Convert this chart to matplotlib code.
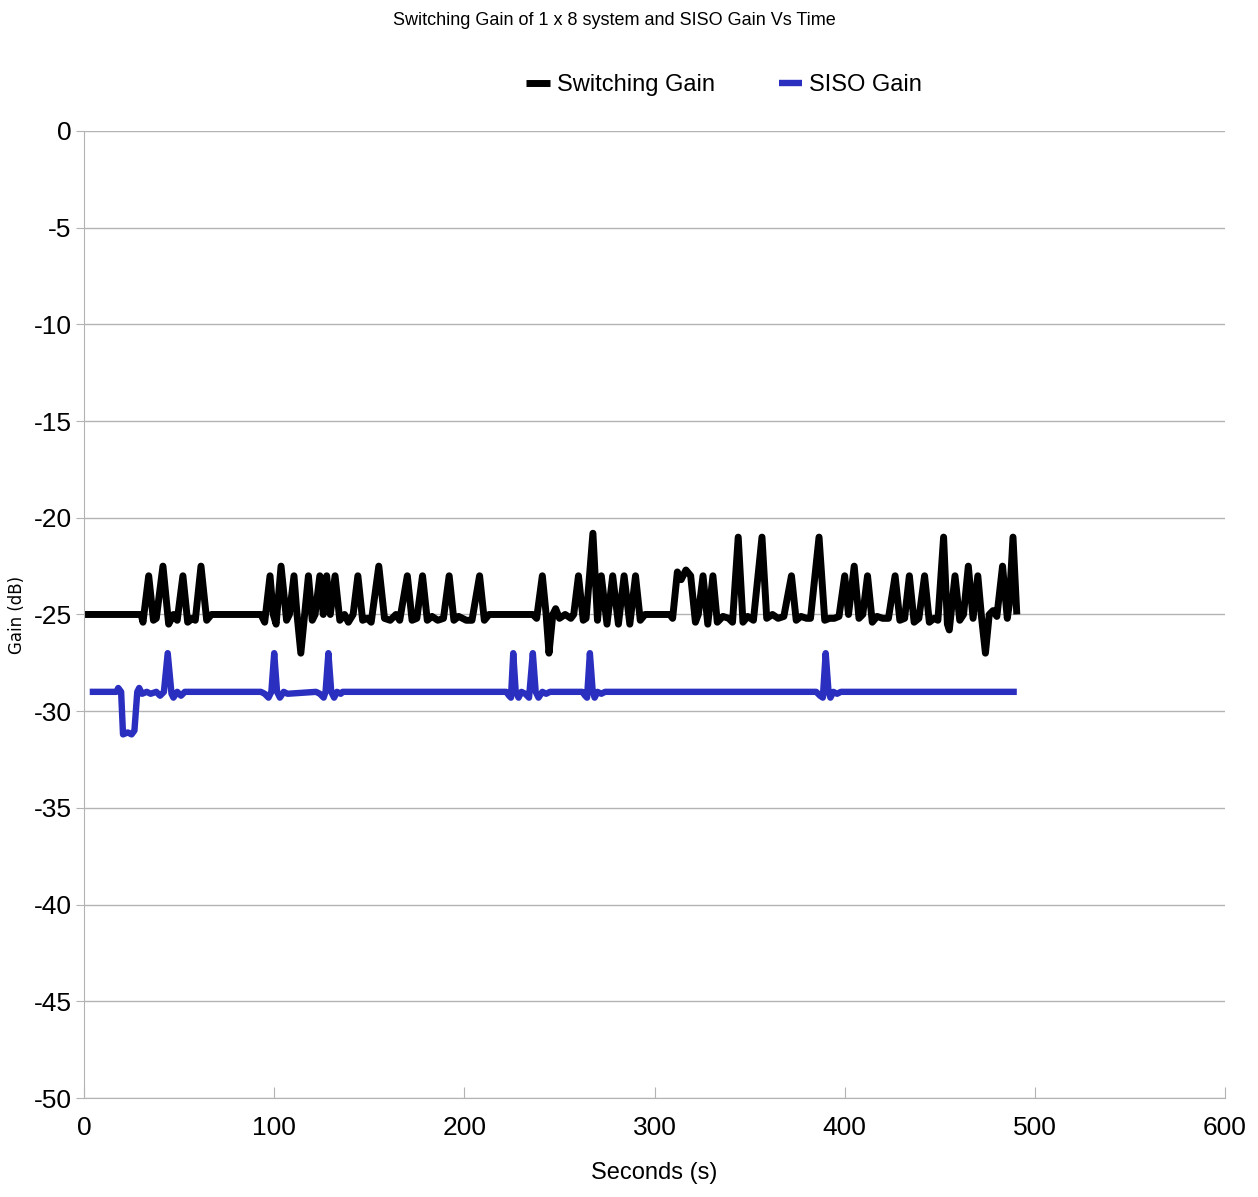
import matplotlib
matplotlib.use("Agg")
import matplotlib.pyplot as plt

plt.rcParams['font.family'] = ['Liberation Sans', 'DejaVu Sans']
plt.rcParams['axes.unicode_minus'] = False

title = "Switching Gain of 1 x 8 system and SISO Gain Vs Time"

# Switching gain (black)
sw_t = [0, 30, 31, 34, 36.5, 38, 41.5, 44.5, 47, 49, 52, 54.5, 57, 58.5, 61.5, 64.5, 67,
        93, 95, 97.8, 99.5, 101, 103.6, 106.5, 108, 110.4, 112, 114, 116, 118, 120, 121.5,
        124, 125.8, 127.6, 129.5, 132, 134.5, 137, 139, 141.5, 144, 146.5, 149, 151, 155,
        158, 161, 164, 166, 170, 172.5, 175, 178, 180.5, 183, 186, 189, 192, 194.5, 197,
        201, 204, 208, 210.5, 213,
        236, 238, 241, 243, 244.5, 246.5, 248, 250, 253, 256, 257.5, 260, 262.5, 264,
        267.6, 270, 272, 275, 278, 281, 284, 287, 290, 292.5, 295,
        308, 309.5, 312, 314, 316.5, 319, 321.5, 323, 325.5, 328, 330.7, 333, 336, 339,
        341, 344, 346.5, 349, 352, 356.5, 359, 362, 365, 368, 372, 374.5, 377, 380, 382,
        386.5, 389.5, 392, 394.5, 397, 400, 402, 405, 407.5, 409.5, 412, 414.5, 417, 420,
        423, 426.5, 429, 431.5, 434, 436.5, 439, 442, 444.5, 447, 449, 452, 454, 455,
        458, 460.5, 462.5, 465, 467.5, 470, 472, 474, 476, 478, 480, 483, 485.5, 486.5,
        488.5, 490.5]
sw_v = [-25, -25, -25.4, -23, -25.3, -25.2, -22.5, -25.5, -25, -25.3, -23, -25.4, -25.2, -25.3, -22.5, -25.3, -25,
        -25, -25.4, -23, -25, -25.5, -22.5, -25.3, -25, -23, -25, -27, -25, -23, -25.3, -25,
        -23, -25, -23, -25, -23, -25.3, -25, -25.4, -25, -23, -25.3, -25.2, -25.4, -22.5,
        -25.2, -25.3, -25, -25.3, -23, -25.3, -25.2, -23, -25.3, -25.1, -25.3, -25.2, -23, -25.3, -25.1,
        -25.3, -25.3, -23, -25.3, -25,
        -25, -25.2, -23, -25, -27, -25, -24.7, -25.2, -25, -25.2, -25, -23, -25.3, -25.2,
        -20.8, -25.3, -23, -25.5, -23, -25.5, -23, -25.5, -23, -25.3, -25,
        -25, -25.2, -22.8, -23.2, -22.7, -23, -25.4, -25, -23, -25.5, -23, -25.4, -25.1, -25.2,
        -25.4, -21, -25.4, -25.1, -25.3, -21, -25.2, -25, -25.2, -25.1, -23, -25.3, -25.1, -25.2, -25.2,
        -21, -25.3, -25.2, -25.2, -25.1, -23, -25, -22.5, -25.2, -25, -23, -25.4, -25.1, -25.2,
        -25.2, -23, -25.3, -25.2, -23, -25.4, -25.2, -23, -25.4, -25.2, -25.3, -21, -25.5, -25.8,
        -23, -25.3, -25, -22.5, -25.2, -23, -25.2, -27, -25, -24.8, -25.1, -22.5, -25.2, -24.5,
        -21, -25]

# SISO gain (blue)
si_t = [3, 17, 18, 19.5, 20.5, 23, 25, 26.5, 28, 29, 30.5, 33, 35, 38, 40, 42, 44, 46, 47,
        49, 51, 53,
        93, 95, 97, 98.5, 100, 101.5, 103, 105, 107,
        122, 124, 126, 127, 128.5, 130, 131.5, 133, 135, 136,
        222, 223.5, 224.5, 225.7, 227, 228.5, 230, 232, 234, 236, 237.5, 239, 241, 243, 245,
        262, 263.5, 264.5, 266, 267.5, 268.5, 270, 272, 274,
        385, 387, 388.5, 390, 391.5, 392.5, 394, 396, 398, 490.5]
si_v = [-29, -29, -28.8, -29, -31.2, -31.1, -31.2, -31, -29, -28.8, -29.1, -29, -29.1, -29, -29.2, -29, -27, -29.1, -29.3,
        -29, -29.2, -29,
        -29, -29.1, -29.3, -29, -27, -29, -29.3, -29, -29.1,
        -29, -29.1, -29.3, -29, -27, -29, -29.3, -29, -29.1, -29,
        -29, -29.2, -29.3, -27, -29, -29.3, -29, -29.1, -29.3, -27, -29, -29.3, -29, -29.1, -29,
        -29, -29.2, -29.3, -27, -29, -29.3, -29, -29.1, -29,
        -29, -29.2, -29.3, -27, -29, -29.3, -29, -29.1, -29, -29]

x_ticks = [0, 100, 200, 300, 400, 500, 600]
y_ticks = [0, -5, -10, -15, -20, -25, -30, -35, -40, -45, -50]

fig = plt.figure(figsize=(12.58, 11.97), dpi=100)
ax = fig.add_axes([0.0668, 0.0827, 0.907, 0.8079])

grey = '#b3b3b3'
ax.plot(sw_t, sw_v, color='black', lw=5, label='Switching Gain',
        solid_joinstyle='round', solid_capstyle='butt')
ax.plot(si_t, si_v, color='#2a2fc0', lw=4.6, label='SISO Gain',
        solid_joinstyle='round', solid_capstyle='butt')

ax.set_xlim(0, 600)
ax.set_ylim(-50, 0)
ax.set_xticks(x_ticks)
ax.set_yticks(y_ticks)
ax.yaxis.grid(True, color=grey, lw=1)
ax.set_axisbelow(True)
for s in ['top', 'right']:
    ax.spines[s].set_visible(False)
for s in ['left', 'bottom']:
    ax.spines[s].set_color(grey)
ax.tick_params(axis='y', direction='out', length=6, color=grey, labelsize=19, pad=3)
ax.tick_params(axis='x', direction='in', length=8, color=grey, labelsize=19, pad=13)

ax.set_xlabel('Seconds (s)', fontsize=17, labelpad=16)
ax.set_ylabel('Gain (dB)', fontsize=12, family='DejaVu Sans')
ax.yaxis.set_label_coords(-0.051, 0.5)

fig.text(0.488, 0.983, title, ha='center', va='center', fontsize=13)
ax.legend(loc='center', bbox_to_anchor=(0.561, 1.0476), ncol=2, frameon=False,
          fontsize=17, handlelength=1.0, handletextpad=0.3, columnspacing=2.7)

fig.savefig('out.png', dpi=100)
